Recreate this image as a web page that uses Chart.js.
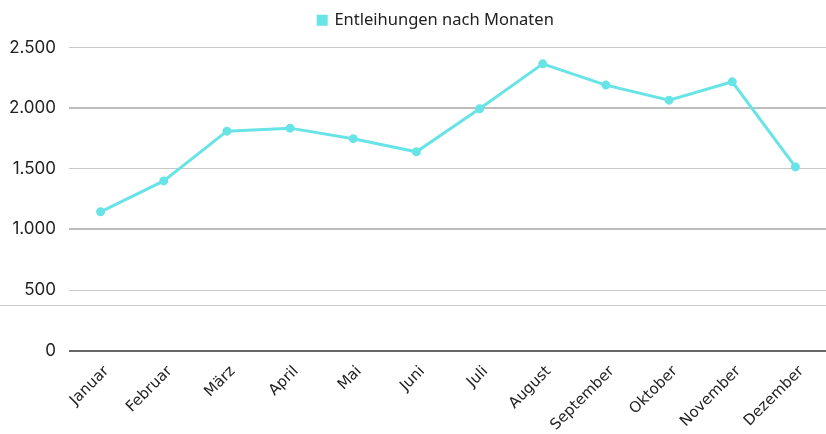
<!DOCTYPE html>
<html lang="de">
<head>
    <meta charset="UTF-8">
    <title>Entleihungen nach Monaten</title>
    <script src="https://cdn.jsdelivr.net/npm/chart.js"></script>
    <style>
        body { margin: 0; overflow: hidden; background: #fff; }
        #wrap { position: relative; width: 826px; height: 434px; overflow: hidden; }
        #dataChart { display: block; }
        #rule { position: absolute; left: 0; top: 305px; width: 826px; height: 1px; background: #cdcbd9; }
    </style>
</head>
<body>

<div id="wrap">
    <canvas id="dataChart" width="826" height="438"></canvas>
    <div id="rule"></div>
</div>

<script>
    const months = ['Januar', 'Februar', 'März', 'April', 'Mai', 'Juni',
                    'Juli', 'August', 'September', 'Oktober', 'November', 'Dezember'];
    const loans = [1145, 1400, 1810, 1835, 1748, 1640, 1995, 2365, 2190, 2066, 2217, 1515];
    const seriesName = 'Entleihungen nach Monaten';

    const lineColor = 'rgb(104, 227, 230)';

    // 1.500 style numbers
    function fmt(v) {
        return String(v).replace(/\B(?=(\d{3})+(?!\d))/g, '.');
    }

    // legend: room below it, centred over the plot
    // plot: runs ~7px past the right edge like the original
    const layoutTweak = {
        id: 'layoutTweak',
        beforeInit(chart) {
            const fit = chart.legend.fit;
            chart.legend.fit = function () {
                fit.call(this);
                this.height += 9;
            };
        },
        afterLayout(chart) {
            chart.legend.left += 46;
            const x = chart.scales.x;
            x.right += 7;
            x.width += 7;
            x.configure();
            chart.chartArea.right += 7;
            chart.chartArea.width += 7;
        }
    };

    const ctx = document.getElementById('dataChart').getContext('2d');
    new Chart(ctx, {
        type: 'line',
        data: {
            labels: months,
            datasets: [{
                label: seriesName,
                data: loans,
                borderColor: lineColor,
                backgroundColor: lineColor,
                borderWidth: 3,
                pointRadius: 3,
                pointHoverRadius: 3,
                fill: false,
                tension: 0
            }]
        },
        options: {
            responsive: false,
            animation: false,
            layout: { padding: 0 },
            plugins: {
                legend: {
                    position: 'top',
                    labels: {
                        boxWidth: 8,
                        boxHeight: 8,
                        color: '#222',
                        padding: 12,
                        font: { family: 'Noto Sans', size: 16.5 }
                    }
                },
                tooltip: { enabled: false }
            },
            scales: {
                x: {
                    offset: true,
                    grid: { display: false, drawTicks: false },
                    border: { display: false },
                    afterFit: s => { s.height -= 8; },
                    ticks: {
                        maxRotation: 45,
                        minRotation: 45,
                        padding: 12,
                        labelOffset: 6,
                        color: '#222',
                        font: { family: 'DejaVu Sans', size: 15 }
                    }
                },
                y: {
                    min: 0,
                    max: 2500,
                    border: { display: false },
                    afterFit: s => { s.width = 69; },
                    grid: {
                        drawTicks: false,
                        color: c => c.tick.value === 0 ? '#666' : (c.tick.value % 1000 === 0 ? '#bdbdbd' : '#c8c8c8'),
                        lineWidth: c => c.tick.value % 1000 === 0 ? 2 : 1
                    },
                    ticks: {
                        stepSize: 500,
                        padding: 13,
                        color: '#222',
                        font: { family: 'Inter', size: 17 },
                        callback: v => fmt(v)
                    }
                }
            }
        },
        plugins: [layoutTweak]
    });
</script>

</body>
</html>
